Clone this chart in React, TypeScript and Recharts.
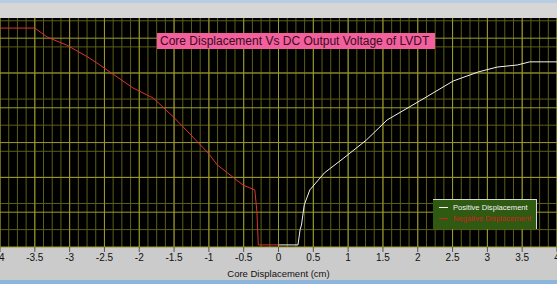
import { LineChart, Line, XAxis, YAxis, CartesianGrid, Legend } from 'recharts';

// Core displacement (cm) vs DC output voltage (V)
const negDisp = [-4, -3.5, -3.32, -3.04, -2.74, -2.61, -2.09, -1.8, -1.51, -1.23, -1.01, -0.88, -0.51, -0.34, -0.31, -0.29, 0];
const negVolt = [6.29, 6.29, 6.03, 5.8, 5.46, 5.29, 4.57, 4.28, 3.74, 3.16, 2.7, 2.36, 1.78, 1.64, 1.01, 0.06, 0.06];
const posDisp = [0, 0.28, 0.31, 0.33, 0.37, 0.45, 0.66, 0.94, 1.26, 1.56, 2.03, 2.51, 2.87, 3.14, 3.43, 3.61, 4];
const posVolt = [0.06, 0.06, 0.5, 0.63, 1.21, 1.64, 2.13, 2.56, 3.07, 3.65, 4.2, 4.77, 5.03, 5.17, 5.23, 5.32, 5.32];

const xTicks = [-4, -3.5, -3, -2.5, -2, -1.5, -1, -0.5, 0, 0.5, 1, 1.5, 2, 2.5, 3, 3.5, 4];
const yMajor = [0, 1, 2, 3, 4, 5, 6];

const steps = (from: number, to: number, step: number) => {
  const out: number[] = [];
  for (let v = from; v <= to + 1e-9; v += step) out.push(+v.toFixed(4));
  return out;
};
const xMinor = steps(-4, 4, 0.125);
const yMinor = steps(0, 6.5, 0.25);

const negData = negDisp.map((x, i) => ({ x, v: negVolt[i] }));
const posData = posDisp.map((x, i) => ({ x, v: posVolt[i] }));

const font = '"Liberation Sans", Arial, sans-serif';

function LegendBox() {
  const row = (color: string, label: string) => (
    <div style={{ display: 'flex', alignItems: 'center', height: 11 }}>
      <span style={{ width: 9, height: 1, background: color, marginLeft: 6, marginRight: 5 }} />
      <span style={{ color, fontSize: 7.6, whiteSpace: 'nowrap' }}>{label}</span>
    </div>
  );
  return (
    <div style={{
      width: 104, height: 30, boxSizing: 'border-box', background: '#2e5a12',
      borderTop: '1px solid #d8d8d8', borderRight: '1px solid #d8d8d8',
      paddingTop: 2, fontFamily: font,
    }}>
      {row('#f2f2f2', 'Positive Displacement')}
      {row('#d81c1c', 'Negative Displacement')}
    </div>
  );
}

export default function App() {
  return (
    <div style={{ position: 'relative', width: 557, height: 284, overflow: 'hidden', background: '#cbcbcb' }}>
      <style>{'body{margin:0}'}</style>
      <div style={{ position: 'absolute', left: 0, top: 0, width: 557, height: 3, background: '#b6cde2' }} />
      <div style={{ position: 'absolute', left: 0, top: 3, width: 557, height: 15, background: '#d6d6d6' }} />
      <div style={{ position: 'absolute', left: 0, top: 280, width: 557, height: 4, background: '#8db6dc' }} />
      <div style={{ position: 'absolute', left: 0, top: 0 }}>
        <LineChart width={557} height={284} margin={{ top: 18, right: 0, bottom: 0, left: 0 }}>
          <CartesianGrid fill="#000" stroke="#5e5e18" verticalValues={xMinor} horizontalValues={yMinor} />
          <CartesianGrid stroke="#9c9c2c" verticalValues={xTicks} horizontalValues={yMajor} />
          <XAxis
            type="number"
            dataKey="x"
            domain={[-4, 4]}
            ticks={xTicks}
            interval={0}
            allowDataOverflow
            height={37}
            axisLine={false}
            tickSize={5}
            tickMargin={2}
            tickLine={{ stroke: '#555' }}
            tick={{ fontSize: 10, fill: '#111', fontFamily: font }}
            label={{ value: 'Core Displacement (cm)', position: 'insideBottom', offset: 7.5, fontSize: 9.5, fill: '#111', fontFamily: font }}
          />
          <YAxis type="number" domain={[0, 6.58]} hide />
          <Line data={posData} dataKey="v" name="Positive Displacement" type="linear" stroke="#f2f2f2" strokeWidth={1} dot={false} isAnimationActive={false} />
          <Line data={negData} dataKey="v" name="Negative Displacement" type="linear" stroke="#e03232" strokeWidth={1} dot={false} isAnimationActive={false} />
          <Legend
            layout="vertical"
            align="center"
            verticalAlign="middle"
            content={() => <LegendBox />}
            wrapperStyle={{ position: 'absolute', left: 433, top: 199, width: 104, height: 30 }}
          />
        </LineChart>
      </div>
      <div style={{
        position: 'absolute', left: 157, top: 33, width: 278, height: 16, background: '#f2609e',
        color: '#3c0a1c', fontFamily: font, fontSize: 12, lineHeight: '16px', paddingLeft: 3, boxSizing: 'border-box', whiteSpace: 'nowrap',
      }}>
        Core Displacement Vs DC Output Voltage of LVDT
      </div>
    </div>
  );
}
